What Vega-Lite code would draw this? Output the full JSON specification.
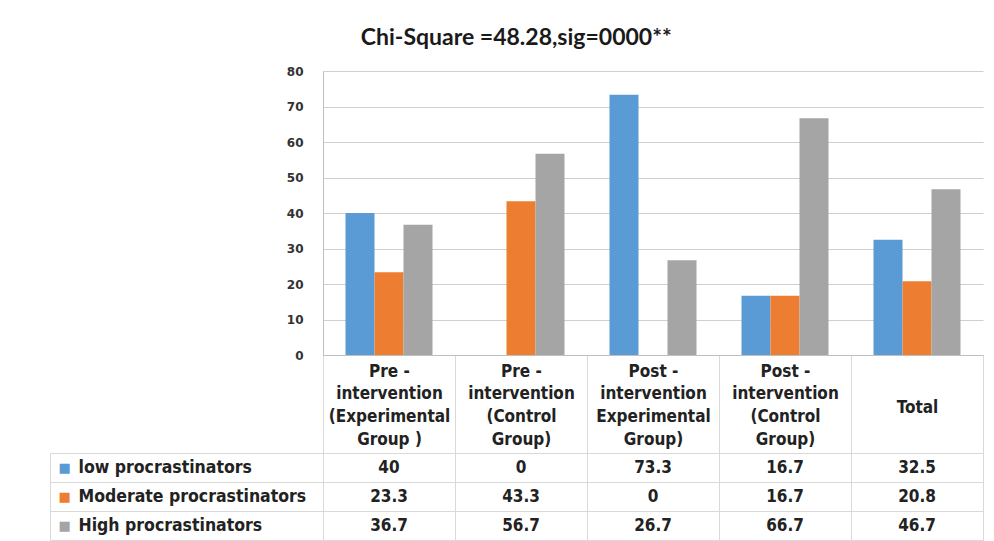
{
  "$schema": "https://vega.github.io/schema/vega-lite/v6.json",
  "padding": {"left": 49, "top": 27, "right": 8, "bottom": 0},
  "background": "white",
  "title": {"text": "Chi-Square =48.28,sig=0000**", "font": "Lato", "fontSize": 23, "fontWeight": "bold", "color": "#1a1a1a", "offset": 15, "anchor": "middle"},
  "data": {"values": [
    {"group": "Pre -\nintervention\n(Experimental\nGroup )", "series": "low procrastinators", "value": 40},
    {"group": "Pre -\nintervention\n(Experimental\nGroup )", "series": "Moderate procrastinators", "value": 23.3},
    {"group": "Pre -\nintervention\n(Experimental\nGroup )", "series": "High procrastinators", "value": 36.7},
    {"group": "Pre -\nintervention\n(Control\nGroup)", "series": "low procrastinators", "value": 0},
    {"group": "Pre -\nintervention\n(Control\nGroup)", "series": "Moderate procrastinators", "value": 43.3},
    {"group": "Pre -\nintervention\n(Control\nGroup)", "series": "High procrastinators", "value": 56.7},
    {"group": "Post -\nintervention\nExperimental\nGroup)", "series": "low procrastinators", "value": 73.3},
    {"group": "Post -\nintervention\nExperimental\nGroup)", "series": "Moderate procrastinators", "value": 0},
    {"group": "Post -\nintervention\nExperimental\nGroup)", "series": "High procrastinators", "value": 26.7},
    {"group": "Post -\nintervention\n(Control\nGroup)", "series": "low procrastinators", "value": 16.7},
    {"group": "Post -\nintervention\n(Control\nGroup)", "series": "Moderate procrastinators", "value": 16.7},
    {"group": "Post -\nintervention\n(Control\nGroup)", "series": "High procrastinators", "value": 66.7},
    {"group": "Total", "series": "low procrastinators", "value": 32.5},
    {"group": "Total", "series": "Moderate procrastinators", "value": 20.8},
    {"group": "Total", "series": "High procrastinators", "value": 46.7}
  ]},
  "bounds": "flush",
  "spacing": 98,
  "config": {"view": {"stroke": null}},
  "vconcat": [
    {
      "width": 660,
      "height": 284,
      "mark": {"type": "bar"},
      "encoding": {
        "x": {
          "field": "group", "type": "nominal",
          "sort": ["Pre -\nintervention\n(Experimental\nGroup )", "Pre -\nintervention\n(Control\nGroup)", "Post -\nintervention\nExperimental\nGroup)", "Post -\nintervention\n(Control\nGroup)", "Total"],
          "scale": {"paddingInner": 0, "paddingOuter": 0},
          "title": null,
          "axis": {
            "labelExpr": "split(datum.label, '\\n')",
            "labelAngle": 0, "tickBand": "extent", "tickSize": 98, "tickColor": "#D9D9D9",
            "domainColor": "#BFBFBF",
            "labelPadding": {"condition": {"test": "datum.value == 'Total'", "value": -46}, "value": -82},
            "labelBaseline": "middle", "labelLineHeight": 22.7,
            "labelFont": "DejaVu Sans Condensed, DejaVu Sans", "labelFontSize": 17, "labelFontWeight": "bold",
            "labelColor": "#222222", "labelOverlap": false, "labelLimit": 0
          }
        },
        "xOffset": {
          "field": "series", "type": "nominal",
          "sort": ["low procrastinators", "Moderate procrastinators", "High procrastinators"],
          "scale": {"paddingInner": 0, "paddingOuter": 0.776}
        },
        "y": {
          "field": "value", "type": "quantitative",
          "scale": {"domain": [0, 80]},
          "title": null,
          "axis": {
            "values": [0, 10, 20, 30, 40, 50, 60, 70, 80], "grid": true, "gridColor": "#D0D0D0",
            "ticks": false, "domainColor": "#BFBFBF", "labelPadding": 20,
            "labelFont": "DejaVu Sans", "labelFontSize": 12, "labelFontWeight": "bold", "labelColor": "#333333"
          }
        },
        "color": {
          "field": "series", "type": "nominal",
          "scale": {"domain": ["low procrastinators", "Moderate procrastinators", "High procrastinators"], "range": ["#5B9BD5", "#ED7D31", "#A5A5A5"]},
          "legend": null
        }
      }
    },
    {
      "width": 660,
      "height": 87,
      "view": {"stroke": "#D9D9D9"},
      "encoding": {
        "x": {
          "field": "group", "type": "nominal",
          "sort": ["Pre -\nintervention\n(Experimental\nGroup )", "Pre -\nintervention\n(Control\nGroup)", "Post -\nintervention\nExperimental\nGroup)", "Post -\nintervention\n(Control\nGroup)", "Total"],
          "scale": {"paddingInner": 0, "paddingOuter": 0},
          "title": null,
          "axis": {"labels": false, "ticks": false, "domain": false, "grid": true, "tickBand": "extent", "gridColor": "#D9D9D9"}
        }
      },
      "layer": [
        {
          "mark": {"type": "text", "font": "DejaVu Sans Condensed, DejaVu Sans", "fontSize": 17, "fontWeight": "bold", "color": "#222222"},
          "encoding": {
            "y": {
              "field": "series", "type": "nominal",
              "sort": ["low procrastinators", "Moderate procrastinators", "High procrastinators"],
              "scale": {"paddingInner": 0, "paddingOuter": 0},
              "title": null,
              "axis": {
                "orient": "left", "tickBand": "extent", "tickSize": 273, "tickColor": "#D9D9D9",
                "grid": true, "gridColor": "#D9D9D9", "domain": false,
                "labelAlign": "left", "labelPadding": -28, "labelBaseline": "middle",
                "labelFont": "DejaVu Sans Condensed, DejaVu Sans", "labelFontSize": 17.5, "labelFontWeight": "bold",
                "labelColor": "#222222", "labelLimit": 0
              }
            },
            "text": {"field": "value", "type": "quantitative"}
          }
        },
        {
          "mark": {"type": "text", "text": ""},
          "encoding": {
            "y": {
              "field": "series", "type": "nominal",
              "sort": ["low procrastinators", "Moderate procrastinators", "High procrastinators"],
              "title": null,
              "axis": {
                "orient": "left", "offset": 273, "ticks": false, "grid": false,
                "domain": true, "domainColor": "#D9D9D9",
                "labelExpr": "'■'", "labelAlign": "left", "labelPadding": -8, "labelBaseline": "middle",
                "labelFont": "DejaVu Sans", "labelFontSize": 13,
                "labelColor": {
                  "condition": [
                    {"test": "datum.value == 'low procrastinators'", "value": "#5B9BD5"},
                    {"test": "datum.value == 'Moderate procrastinators'", "value": "#ED7D31"}
                  ],
                  "value": "#A5A5A5"
                }
              }
            }
          }
        }
      ],
      "resolve": {"axis": {"y": "independent"}}
    }
  ]
}
